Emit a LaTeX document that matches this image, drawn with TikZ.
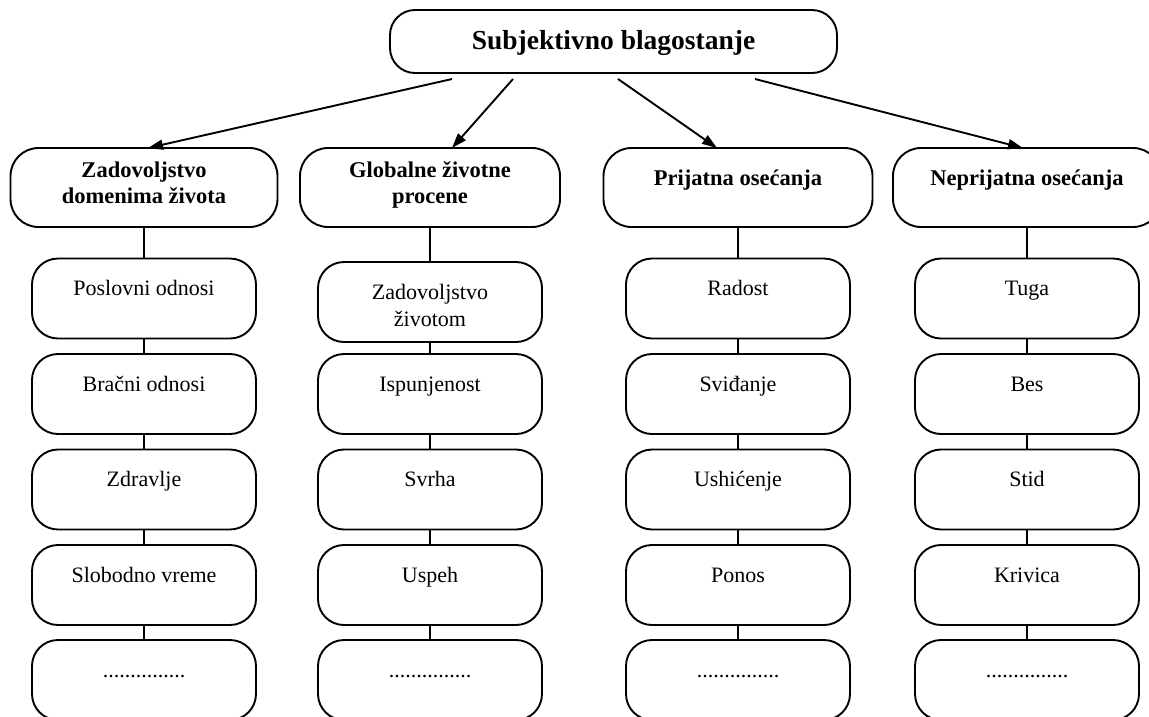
\documentclass[tikz,border=0pt]{standalone}
\usepackage{fontspec}
\setmainfont{Liberation Serif}
\usetikzlibrary{arrows.meta,calc}

\begin{document}
\begin{tikzpicture}[x=1pt,y=-1pt,
  every node/.style={inner sep=0pt, outer sep=0pt},
  rootbox/.style={draw, line width=1.9pt, rounded corners=25pt,
    minimum width=447pt, minimum height=63pt,
    font=\fontsize{27.5}{32}\selectfont\bfseries, text height=18pt, text depth=3pt},
  headbox/.style={draw, line width=1.9pt, rounded corners=28pt, minimum height=79pt,
    font=\fontsize{22.5}{26.5}\selectfont\bfseries, text height=16pt, text depth=21pt},
  headtwo/.style={headbox, text depth=37pt},
  itembox/.style={draw, line width=1.9pt, rounded corners=26pt,
    minimum width=224pt, minimum height=80pt,
    font=\fontsize{22}{27}\selectfont, text height=16pt, text depth=22pt},
  link/.style={line width=1.9pt},
  arrow/.style={line width=1.9pt, -{Triangle[length=15pt,width=10pt]}}
]
\clip (0,0) rectangle (1149,716);

% root
\node[rootbox] (top) at (613.5,41.5) {Subjektivno blagostanje};

% four main components
\node[headtwo, minimum width=267pt] (l1) at (144,187.5)
  {\begin{tabular}[t]{@{}c@{}}Zadovoljstvo\\domenima života\end{tabular}};
\node[headtwo, minimum width=260pt] (l2) at (430,187.5)
  {\begin{tabular}[t]{@{}c@{}}Globalne životne\\procene\end{tabular}};
\node[headbox, minimum width=269pt] (l3) at (738,187.5) {Prijatna osećanja};
\node[headbox, minimum width=268pt] (l4) at (1027,187.5) {Neprijatna osećanja};

% arrows from the root
\coordinate (s1) at ($(top.south)+(-161.5,6)$);
\coordinate (s2) at ($(top.south)+(-100.5,6)$);
\coordinate (s3) at ($(top.south)+(4.5,6)$);
\coordinate (s4) at ($(top.south)+(141.5,6)$);
\draw[arrow] (s1) -- ($(l1.north)+(4,0)$);
\draw[arrow] (s2) -- ($(l2.north)+(22,0)$);
\draw[arrow] (s3) -- ($(l3.north)+(-21,0)$);
\draw[arrow] (s4) -- ($(l4.north)+(-4,0)$);

% column 1
\node[itembox] (b11) at (144,298.5) {Poslovni odnosi};
\node[itembox] (b12) at (144,394) {Bračni odnosi};
\node[itembox] (b13) at (144,489.5) {Zdravlje};
\node[itembox] (b14) at (144,585) {Slobodno vreme};
\node[itembox] (b15) at (144,680) {...............};

% column 2
\node[itembox] (b21) at (430,302)
  {\begin{tabular}[t]{@{}c@{}}Zadovoljstvo\\životom\end{tabular}};
\node[itembox] (b22) at (430,394) {Ispunjenost};
\node[itembox] (b23) at (430,489.5) {Svrha};
\node[itembox] (b24) at (430,585) {Uspeh};
\node[itembox] (b25) at (430,680) {...............};

% column 3
\node[itembox] (b31) at (738,298.5) {Radost};
\node[itembox] (b32) at (738,394) {Sviđanje};
\node[itembox] (b33) at (738,489.5) {Ushićenje};
\node[itembox] (b34) at (738,585) {Ponos};
\node[itembox] (b35) at (738,680) {...............};

% column 4
\node[itembox] (b41) at (1027,298.5) {Tuga};
\node[itembox] (b42) at (1027,394) {Bes};
\node[itembox] (b43) at (1027,489.5) {Stid};
\node[itembox] (b44) at (1027,585) {Krivica};
\node[itembox] (b45) at (1027,680) {...............};

% vertical links
\foreach \c in {1,2,3,4}{
  \draw[link] (l\c.south) -- (b\c1.north);
  \draw[link] (b\c1.south) -- (b\c2.north);
  \draw[link] (b\c2.south) -- (b\c3.north);
  \draw[link] (b\c3.south) -- (b\c4.north);
  \draw[link] (b\c4.south) -- (b\c5.north);
}
\end{tikzpicture}
\end{document}
